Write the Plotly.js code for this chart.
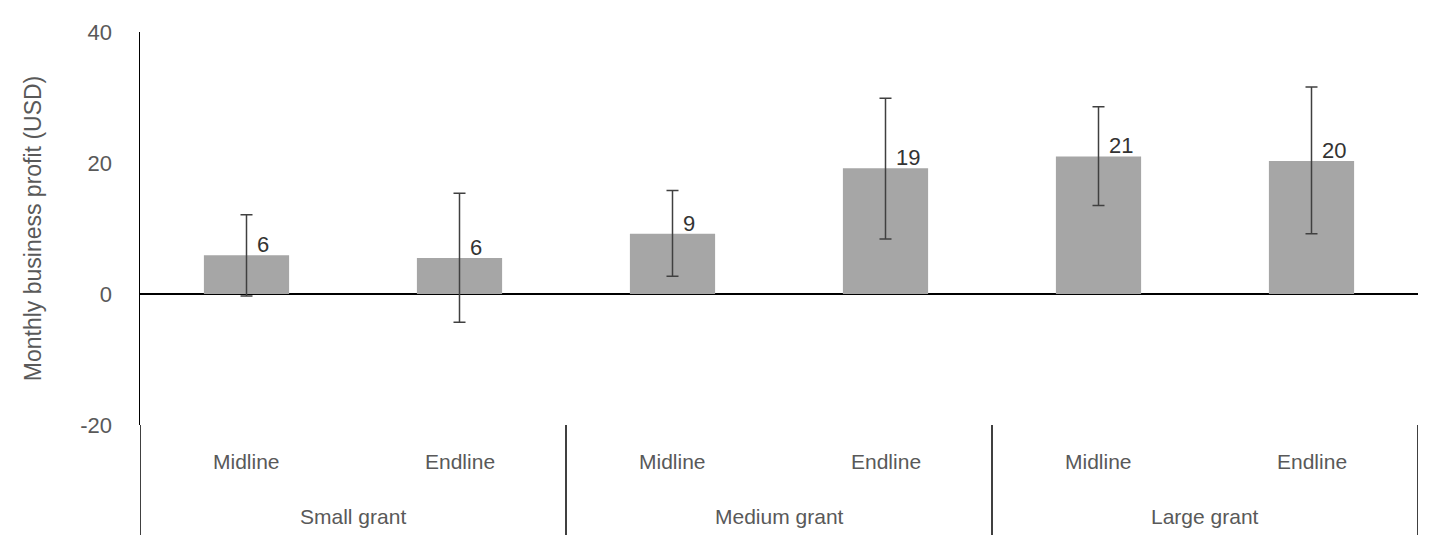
<!DOCTYPE html>
<html>
<head>
<script src="https://cdn.plot.ly/plotly-3.0.1.min.js"></script>
<style>body{margin:0}#chart{width:1440px;height:545px}</style>
</head>
<body>
<div id="chart"></div>
<script>
const rounds = ['Midline','Endline','Midline','Endline','Midline','Endline']
const groups = ['Small grant','Medium grant','Large grant']
const profit = [5.9, 5.5, 9.2, 19.2, 21.0, 20.3]
const errUp = [6.2, 9.9, 6.6, 10.7, 7.6, 11.3]
const errDown = [6.2, 9.8, 6.5, 10.8, 7.5, 11.1]
const labels = ['6','6','9','19','21','20']
const yTicks = [-20, 0, 20, 40]
const yTickText = ['-20', '0', '20', '40']

const grey = '#595959'
const font = {family:'Liberation Sans, Arial, sans-serif', size:21, color:grey}
const xs = profit.map((_,i)=>i)

const trace = {
  type:'bar', x:xs, y:profit,
  marker:{color:'#a6a6a6'},
  error_y:{type:'data', symmetric:false, array:errUp, arrayminus:errDown,
    color:'#404040', thickness:1.5, width:6},
  hoverinfo:'none'
}

const ann = []
xs.forEach(i=>{
  ann.push({x:i, y:profit[i], text:labels[i], showarrow:false, xanchor:'left', yanchor:'bottom',
    xshift:8, yshift:-4, font:{...font, size:22, color:'#333'}})
  ann.push({x:i, y:-0.094, yref:'paper', yanchor:'middle', text:rounds[i], showarrow:false, font:font})
})
groups.forEach((g,k)=>{
  ann.push({x:2*k+0.5, y:-0.234, yref:'paper', yanchor:'middle', text:g, showarrow:false, font:font})
})

const shapes = [-0.5,1.5,3.5,5.5].map(x=>({type:'line', x0:x, x1:x, y0:0, y1:-0.28, yref:'paper',
  line:{color:'#000', width:1.5}}))

const layout = {
  width:1440, height:545,
  margin:{l:140, r:22, t:32, b:120},
  paper_bgcolor:'#fff', plot_bgcolor:'#fff',
  font:font, showlegend:false, bargap:0.6,
  xaxis:{range:[-0.5,5.5], showticklabels:false, showgrid:false, zeroline:false, fixedrange:true},
  yaxis:{range:[-20,40], tickvals:yTicks, ticktext:yTickText, showgrid:false, zeroline:true,
    zerolinecolor:'#000', zerolinewidth:1.5, showline:true, linecolor:'#000', linewidth:1.5,
    ticks:'', ticklen:0, ticklabelstandoff:22, tickfont:{...font, size:22}, automargin:false,
    title:{text:'Monthly business profit (USD)', font:{...font, size:23}, standoff:32}},
  annotations:ann, shapes:shapes
}
Plotly.newPlot('chart',[trace],layout,{displayModeBar:false, staticPlot:true})
</script>
</body>
</html>
